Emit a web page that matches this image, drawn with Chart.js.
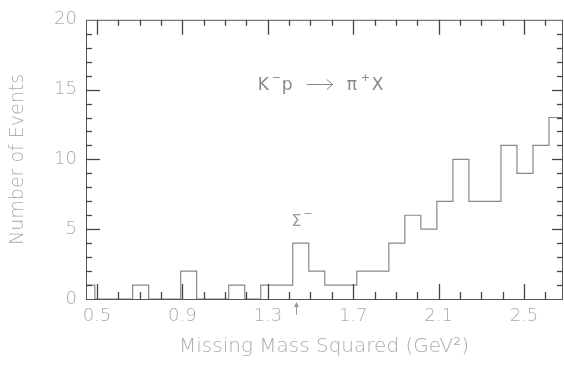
<!DOCTYPE html>
<html>
<head>
<meta charset="utf-8">
<script src="https://cdn.jsdelivr.net/npm/chart.js@4.4.1/dist/chart.umd.min.js"></script>
<style>
  html, body { margin: 0; padding: 0; background: #fff; }
  #wrap { width: 564px; height: 366px; }
</style>
</head>
<body>
<div id="wrap"><canvas id="chart" width="564" height="366"></canvas></div>
<script>
// bin edges (GeV^2) and event counts per bin
const binEdges = [0.442, 0.49, 0.592, 0.667, 0.742, 0.817, 0.892, 0.967, 1.042, 1.117,
  1.192, 1.267, 1.342, 1.417, 1.492, 1.567, 1.642, 1.717, 1.792, 1.867,
  1.942, 2.017, 2.092, 2.167, 2.242, 2.317, 2.392, 2.467, 2.542, 2.617, 2.692];
const counts = [1, 0, 0, 1, 0, 0, 2, 0, 0, 1, 0, 1, 1, 4, 2, 1, 1, 2, 2, 4,
  6, 5, 7, 10, 7, 7, 11, 9, 11, 13];

const xTicks = [0.5, 0.9, 1.3, 1.7, 2.1, 2.5];
const xTickLabels = ['0.5', '0.9', '1.3', '1.7', '2.1', '2.5'];
const yTicks = [0, 5, 10, 15, 20];
const yTickLabels = ['0', '5', '10', '15', '20'];

const sigmaMassSq = 1.43;  // arrow under the axis
const xMin = 0.4485, xMax = 2.678;

const textColor = '#ababab';
const fontFam = '"DejaVu Sans", sans-serif';

// histogram as stepped line: each point holds the count of the bin starting there
const points = binEdges.map((e, i) => ({ x: e, y: counts[Math.min(i, counts.length - 1)] }));

function tickLine(ctx, x1, y1, x2, y2) {
  ctx.beginPath();
  ctx.moveTo(x1, y1);
  ctx.lineTo(x2, y2);
  ctx.stroke();
}

const frameTicks = {
  id: 'frameTicks',
  afterDraw(chart) {
    const { ctx, chartArea: a, scales: { x, y } } = chart;
    ctx.save();
    ctx.strokeStyle = '#555';
    ctx.lineWidth = 1;
    ctx.strokeRect(a.left + 0.5, a.top + 0.5, a.right - a.left, a.bottom - a.top);
    ctx.strokeStyle = '#444';
    ctx.lineWidth = 1.3;
    // x: minor every 0.1, major on labelled values
    for (let k = 5; k <= 26; k++) {
      const v = k / 10;
      const major = xTicks.some(t => Math.abs(t - v) < 1e-6);
      const px = Math.round(x.getPixelForValue(v)) + 0.5;
      tickLine(ctx, px, a.bottom, px, a.bottom - (major ? 15 : 7));
      tickLine(ctx, px, a.top, px, a.top + (major ? 15 : 6));
    }
    // y: minor every 1, major every 5
    for (let v = 1; v < 20; v++) {
      const major = v % 5 === 0;
      const py = Math.round(y.getPixelForValue(v)) + 0.5;
      tickLine(ctx, a.left, py, a.left + (major ? 14 : 6), py);
      tickLine(ctx, a.right, py, a.right - (major ? 10 : 5), py);
    }

    // reaction label
    ctx.lineWidth = 1;
    ctx.fillStyle = '#888';
    ctx.strokeStyle = '#888';
    ctx.textBaseline = 'alphabetic';
    ctx.textAlign = 'left';
    const ax = x.getPixelForValue(1.253), ay = y.getPixelForValue(15);
    ctx.font = '17px ' + fontFam;
    ctx.fillText('K', ax, ay);
    ctx.font = '11px ' + fontFam;
    ctx.fillText('\u2212', ax + 14, ay - 9);
    ctx.font = '17px ' + fontFam;
    ctx.fillText('p', ax + 24, ay);
    ctx.fillText('\u03C0', ax + 89, ay);
    ctx.font = '11px ' + fontFam;
    ctx.fillText('+', ax + 103, ay - 9);
    ctx.font = '17px ' + fontFam;
    ctx.fillText('X', ax + 114, ay);
    // long arrow
    const ry = Math.round(ay - 6) + 0.5;
    ctx.beginPath();
    ctx.moveTo(ax + 49, ry); ctx.lineTo(ax + 75, ry);
    ctx.moveTo(ax + 69, ry - 5); ctx.lineTo(ax + 75, ry); ctx.lineTo(ax + 69, ry + 5);
    ctx.stroke();

    const sx = x.getPixelForValue(sigmaMassSq);
    const sy = y.getPixelForValue(5.2);
    ctx.fillStyle = '#999';
    ctx.font = '16px ' + fontFam;
    ctx.fillText('\u03A3', sx - 4, sy);
    ctx.font = '11px ' + fontFam;
    ctx.fillText('\u2212', sx + 8, sy - 9);

    // arrow below the axis at the Sigma- mass squared
    const arX = Math.round(sx) + 0.5;
    ctx.strokeStyle = '#999';
    tickLine(ctx, arX, a.bottom + 16, arX, a.bottom + 4);
    ctx.beginPath();
    ctx.moveTo(arX, a.bottom + 3); ctx.lineTo(arX - 2.5, a.bottom + 8); ctx.lineTo(arX + 2.5, a.bottom + 8);
    ctx.closePath();
    ctx.fill();
    ctx.restore();
  }
};

new Chart(document.getElementById('chart'), {
  type: 'line',
  data: {
    datasets: [{
      data: points,
      stepped: 'before',
      borderColor: '#888',
      borderWidth: 1.2,
      pointRadius: 0,
      fill: false
    }]
  },
  options: {
    responsive: false,
    animation: false,
    events: [],
    layout: { padding: { top: 10, right: 2, left: 0, bottom: 0 } },
    plugins: { legend: { display: false }, tooltip: { enabled: false } },
    scales: {
      x: {
        type: 'linear',
        min: xMin,
        max: xMax,
        afterBuildTicks: axis => { axis.ticks = xTicks.map(v => ({ value: v })); },
        afterFit: axis => { axis.height = 67; },
        grid: { display: false, drawTicks: false },
        border: { display: false },
        ticks: {
          padding: 7,
          color: textColor,
          font: { family: fontFam, size: 18, weight: 200 },
          maxRotation: 0,
          autoSkip: false,
          callback: (v) => {
            const i = xTicks.findIndex(t => Math.abs(t - v) < 1e-6);
            return i >= 0 ? xTickLabels[i] : '';
          }
        },
        title: {
          display: true,
          text: 'Missing Mass Squared (GeV\u00B2)',
          color: textColor,
          font: { family: fontFam, size: 20, weight: 200 },
          padding: { top: 0, bottom: 7 }
        }
      },
      y: {
        min: 0,
        max: 20,
        afterBuildTicks: axis => { axis.ticks = yTicks.map(v => ({ value: v })); },
        afterFit: axis => { axis.width = 86; },
        grid: { display: false, drawTicks: false },
        border: { display: false },
        ticks: {
          padding: 9,
          color: textColor,
          font: { family: fontFam, size: 18, weight: 200 },
          callback: (v) => {
            const i = yTicks.indexOf(v);
            return i >= 0 ? yTickLabels[i] : '';
          }
        },
        title: {
          display: true,
          text: 'Number of Events',
          color: textColor,
          font: { family: fontFam, size: 19, weight: 200 },
          padding: { top: 7, bottom: 0 }
        }
      }
    }
  },
  plugins: [frameTicks]
});
</script>
</body>
</html>
